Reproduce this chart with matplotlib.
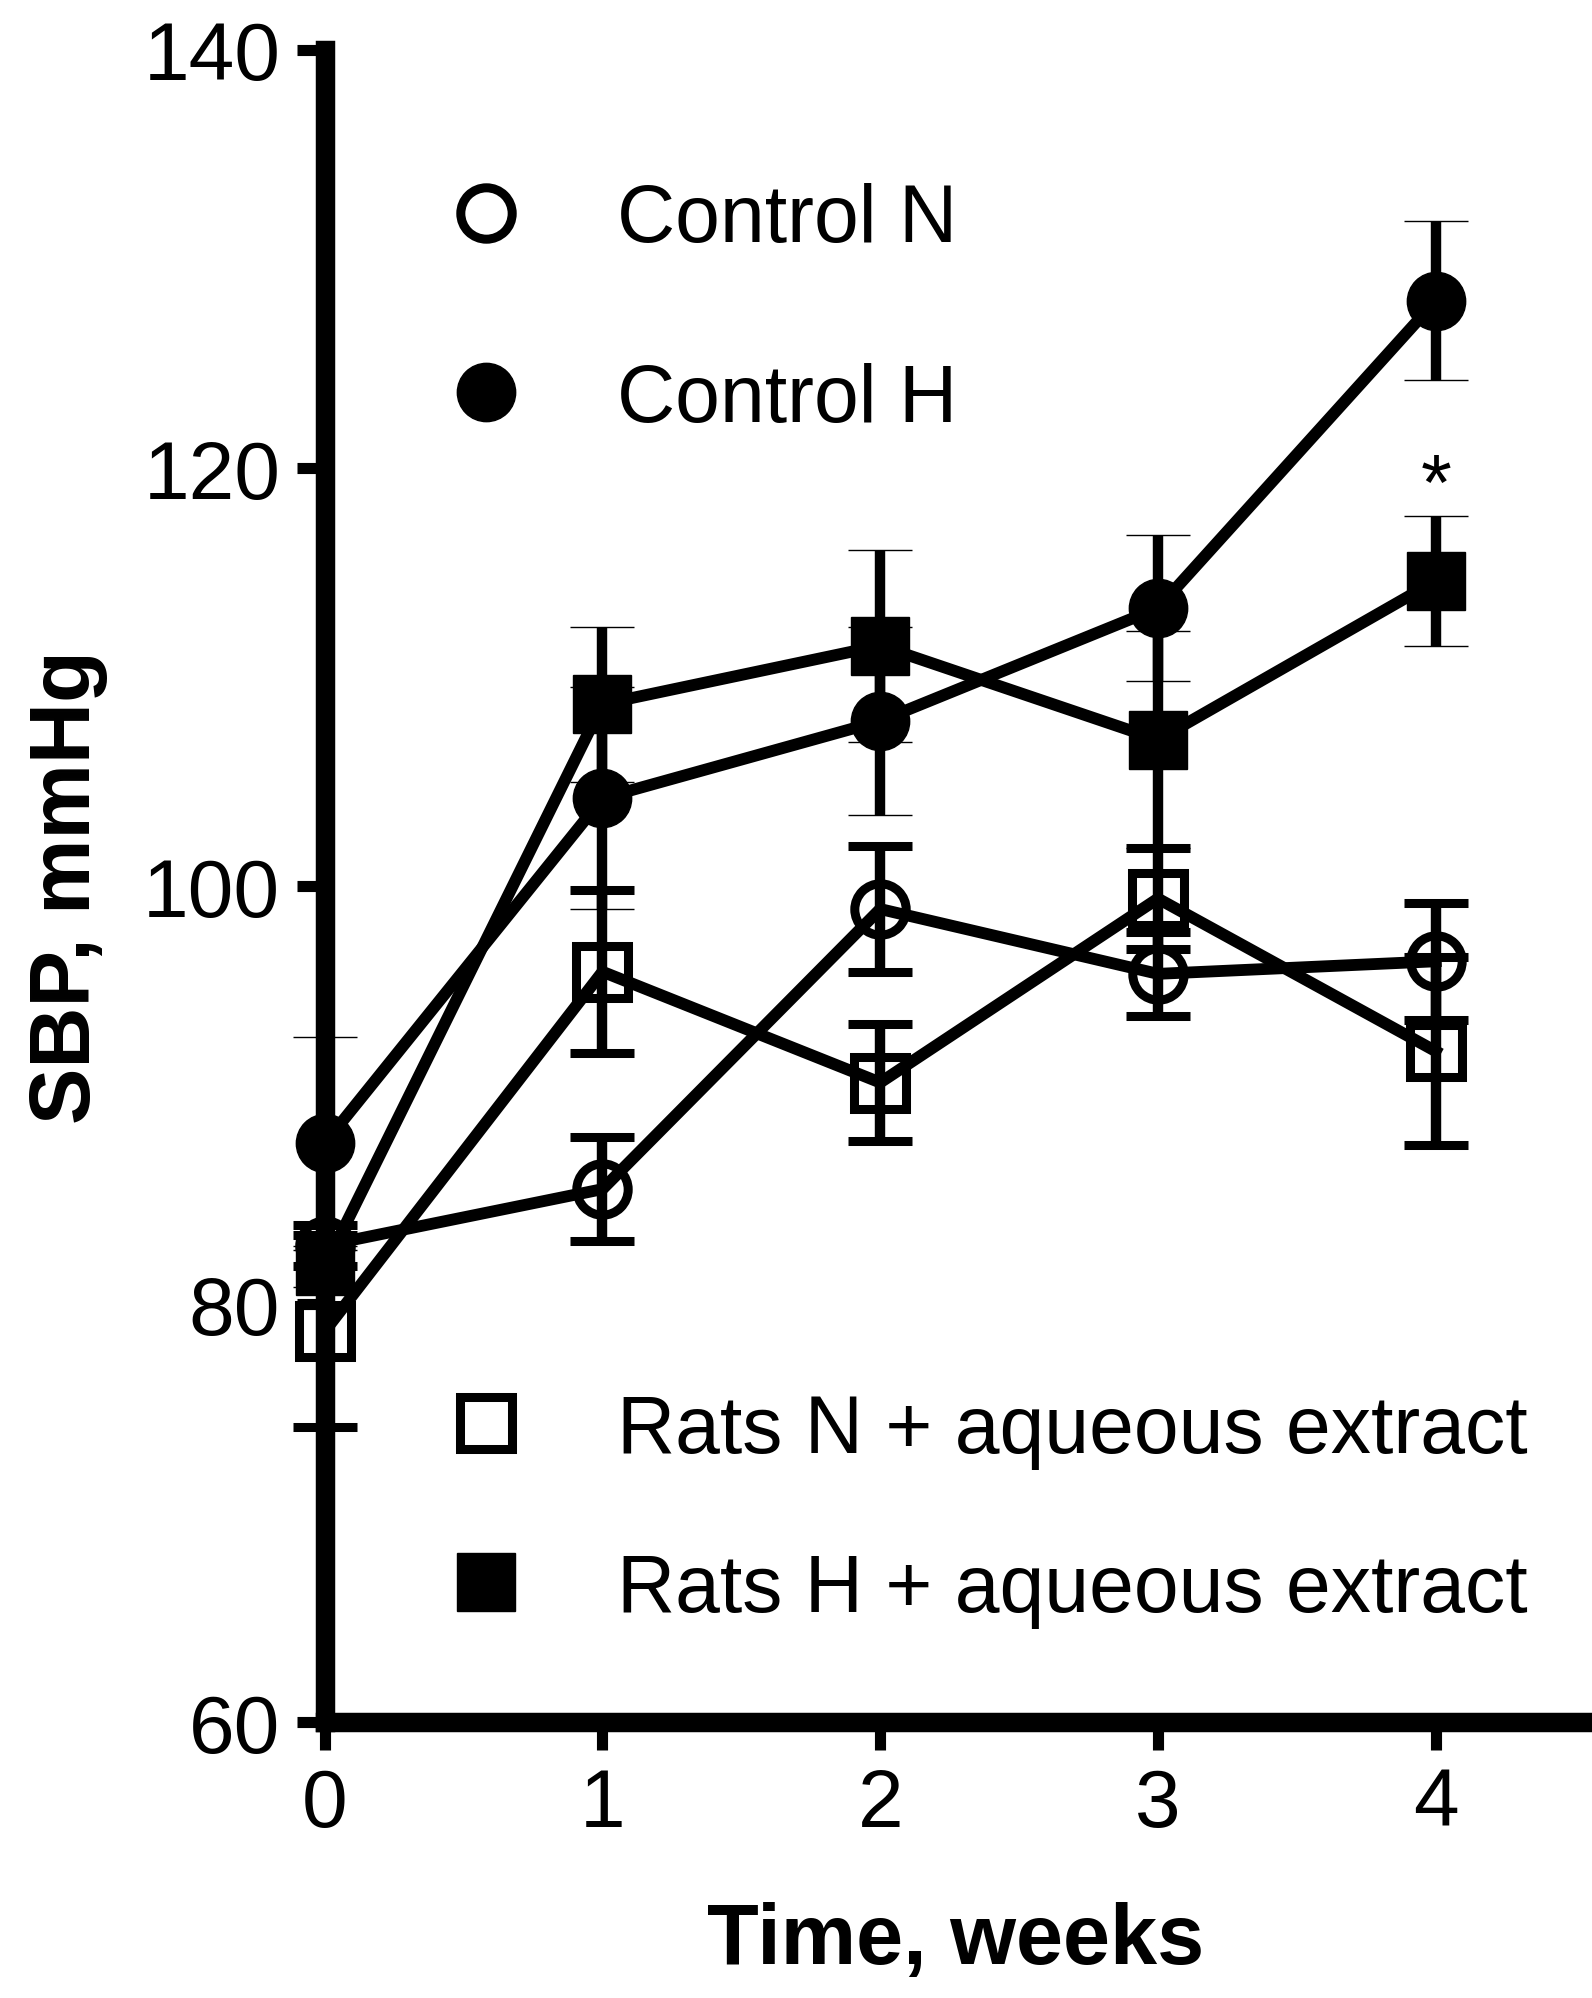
import matplotlib
matplotlib.use("Agg")
import matplotlib.pyplot as plt
from matplotlib.lines import Line2D

# SBP over time, four groups
weeks = [0, 1, 2, 3, 4]

series_names = [
    "Control N",
    "Control H",
    "Rats N + aqueous extract",
    "Rats H + aqueous extract",
]
control_n = [82.8, 85.5, 98.9, 95.8, 96.4]
control_n_err = [1.0, 2.5, 3.0, 2.0, 2.8]
control_h = [87.7, 104.2, 107.9, 113.3, 128.0]
control_h_err = [5.1, 5.3, 4.5, 3.5, 3.8]
rats_n = [78.7, 95.9, 90.6, 99.4, 92.1]
rats_n_err = [4.6, 3.9, 2.8, 2.4, 4.5]
rats_h = [81.8, 108.7, 111.5, 107.0, 114.6]
rats_h_err = [1.0, 3.7, 4.6, 5.2, 3.1]

star_week = 4
star_value = 119.0

plt.rcParams["font.family"] = ["Liberation Sans", "DejaVu Sans"]

fig = plt.figure(figsize=(15.92, 19.99), dpi=100)
ax = fig.add_axes([0.204, 0.138, 0.792, 0.8365])

# marker style per group: (marker, filled)
styles = [("o", False), ("o", True), ("s", False), ("s", True)]
values = [control_n, control_h, rats_n, rats_h]
errors = [control_n_err, control_h_err, rats_n_err, rats_h_err]

handles = []
for (mk, filled), y, e in zip(styles, values, errors):
    if filled:
        mstyle = dict(ms=42, mfc="black", mec="black", mew=1)
    else:
        mstyle = dict(ms=37, mfc="none", mec="black", mew=6.5)
    cont = ax.errorbar(weeks, y, yerr=e, fmt=mk + "-", color="black", lw=8.5,
                       elinewidth=7.5, capsize=23, capthick=8, **mstyle)
    data_line, caplines, barcols = cont.lines
    data_line.set_clip_on(False)
    for c in caplines:
        c.set_clip_on(False)
    for b in barcols:
        b.set_clip_on(False)
    handles.append(Line2D([], [], linestyle="none", marker=mk, color="black", **mstyle))

ax.text(star_week, star_value, "*", ha="center", va="center", fontsize=57)

ax.set_xlim(0, 4.54)
ax.set_ylim(60, 140)
ax.set_xticks(weeks)
ax.set_yticks([60, 80, 100, 120, 140])

for side in ["top", "right"]:
    ax.spines[side].set_visible(False)
for side in ["left", "bottom"]:
    ax.spines[side].set_linewidth(14)
    ax.spines[side].set_capstyle("projecting")

ax.tick_params(axis="both", which="major", direction="out", length=20, width=8,
               labelsize=59, pad=12)

ax.set_xlabel("Time, weeks", fontsize=61, fontweight="bold")
ax.set_ylabel("SBP, mmHg", fontsize=61, fontweight="bold")
ax.xaxis.set_label_coords(0.5, -0.107)
ax.yaxis.set_label_coords(-0.172, 0.5)

leg_kw = dict(loc="center left", frameon=False, fontsize=58, handlelength=1.0,
              handletextpad=1.12, borderpad=0, borderaxespad=0)
leg1 = ax.legend(handles[:2], series_names[:2], bbox_to_anchor=(0.096, 0.8445),
                 labelspacing=1.28, **leg_kw)
ax.add_artist(leg1)
ax.legend(handles[2:], series_names[2:], bbox_to_anchor=(0.096, 0.1268),
          labelspacing=1.03, **leg_kw)

fig.savefig("out.png", dpi=100, facecolor="white")
